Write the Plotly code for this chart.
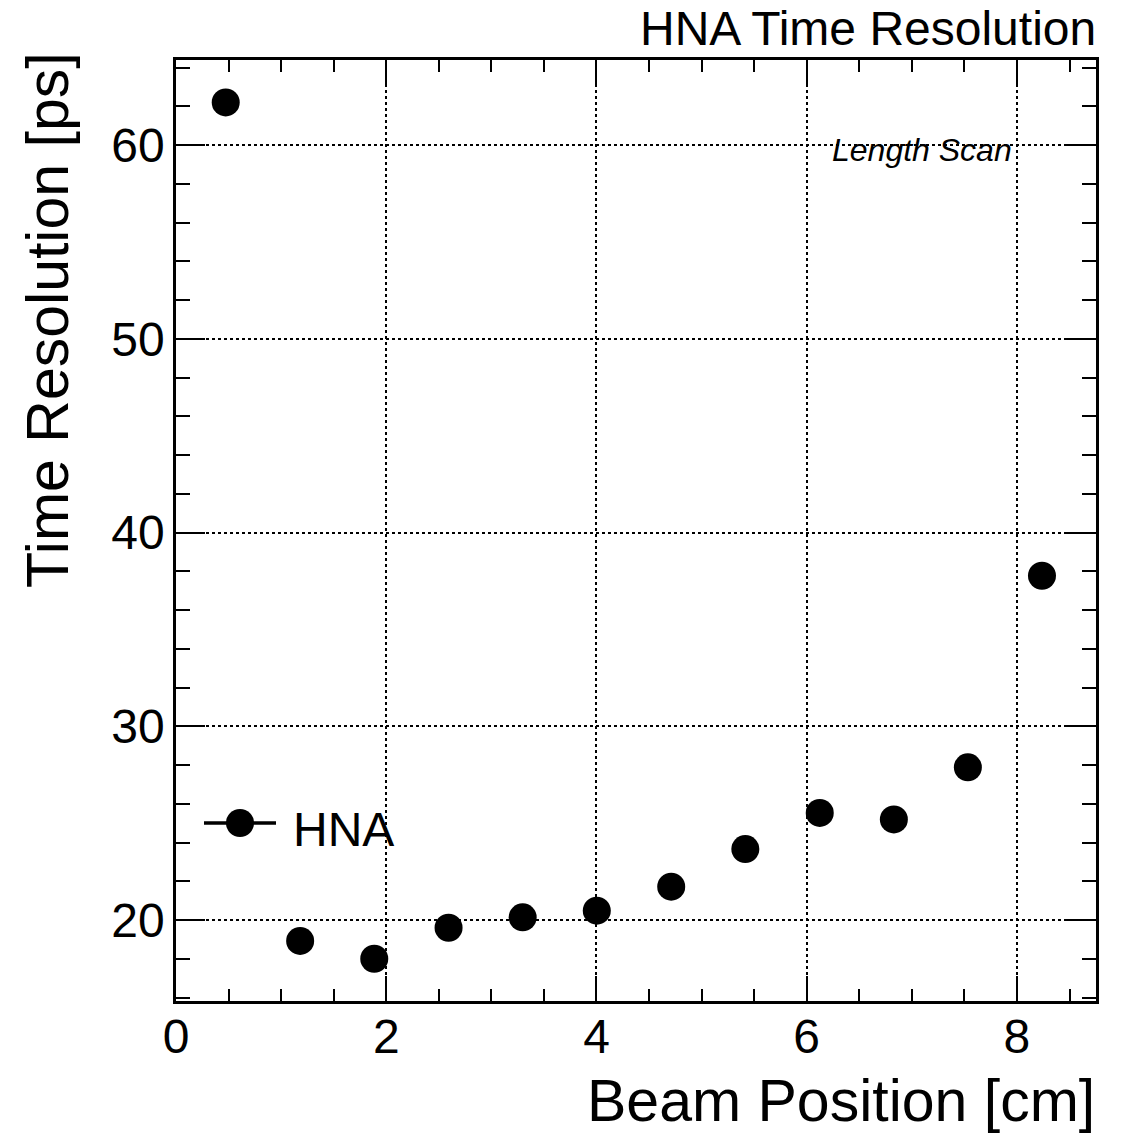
import plotly.graph_objects as go

beam_position = [0.473, 1.181, 1.886, 2.593, 3.298, 4.003, 4.711, 5.416, 6.124, 6.829, 7.533, 8.238]
time_resolution = [62.20, 18.92, 18.00, 19.60, 20.14, 20.48, 21.72, 23.66, 25.53, 25.19, 27.88, 37.77]
series_name = "HNA"

FONT = "Liberation Sans, Arial, Helvetica, sans-serif"

# page offset (browser body margin) compensation
OFF = 8
W, H = 1125 - OFF, 1134 - OFF
L = 176 - OFF
T = 60 - OFF
R = W - (1096 - OFF)
B = H - (1001 - OFF)
pw = W - L - R
ph = H - T - B

def px(x):
    return (x - OFF - L) / pw

def py(y):
    return (H - B - (y - OFF)) / ph

fig = go.Figure()
fig.add_trace(go.Scatter(
    x=beam_position, y=time_resolution, mode="markers", name=series_name,
    marker=dict(size=28, color="black", symbol="circle"),
    showlegend=False,
))

axis_common = dict(
    showline=True, linecolor="black", linewidth=2.5, mirror="ticks",
    ticks="inside", tickcolor="black", tickwidth=2,
    showgrid=True, gridcolor="black", gridwidth=1.5, griddash="dot",
    zeroline=False,
    tickfont=dict(family=FONT, size=48, color="black"),
)

fig.update_xaxes(
    range=[0, 8.752], dtick=2, tick0=0, ticklen=25,
    minor=dict(dtick=0.5, ticklen=12, ticks="inside", tickcolor="black", tickwidth=2, showgrid=False),
    ticklabelstandoff=-8,
    **axis_common,
)
fig.update_yaxes(
    range=[15.82, 64.39], dtick=10, tick0=0, ticklen=29,
    minor=dict(dtick=2, ticklen=14, ticks="inside", tickcolor="black", tickwidth=2, showgrid=False),
    ticklabelstandoff=-1,
    **axis_common,
)

# legend drawn manually (ROOT style: line through marker)
shapes = [
    dict(type="line", xref="paper", yref="paper",
         x0=px(204), x1=px(276), y0=py(823), y1=py(823),
         line=dict(color="black", width=3.5)),
    dict(type="circle", xref="paper", yref="paper",
         xsizemode="pixel", ysizemode="pixel",
         xanchor=px(240), yanchor=py(823),
         x0=-14, x1=14, y0=-14, y1=14,
         fillcolor="black", line=dict(color="black", width=0)),
]

fig.update_layout(
    width=W, height=H,
    margin=dict(l=L, r=R, t=T, b=B, autoexpand=False),
    paper_bgcolor="white", plot_bgcolor="white",
    font=dict(family=FONT, color="black"),
    showlegend=False,
    shapes=shapes,
    annotations=[
        dict(text=series_name, xref="paper", yref="paper",
             x=px(291), y=py(829), xanchor="left", yanchor="middle",
             showarrow=False, font=dict(family=FONT, size=48, color="black")),
        dict(text="HNA Time Resolution", xref="paper", yref="paper",
             x=px(1098), y=py(29), xanchor="right", yanchor="middle",
             showarrow=False, font=dict(family=FONT, size=48, color="black")),
        dict(text="Beam Position [cm]", xref="paper", yref="paper",
             x=px(1097), y=py(1101), xanchor="right", yanchor="middle",
             showarrow=False, font=dict(family=FONT, size=59, color="black")),
        dict(text="Time Resolution [ps]", xref="paper", yref="paper",
             x=px(48), y=py(320), xanchor="center", yanchor="middle", textangle=-90,
             showarrow=False, font=dict(family=FONT, size=59, color="black")),
        dict(text="<i>Length Scan</i>", xref="paper", yref="paper",
             x=px(922), y=py(150), xanchor="center", yanchor="middle",
             showarrow=False, font=dict(family=FONT, size=32, color="black")),
    ],
)

fig.write_html("out.html")
